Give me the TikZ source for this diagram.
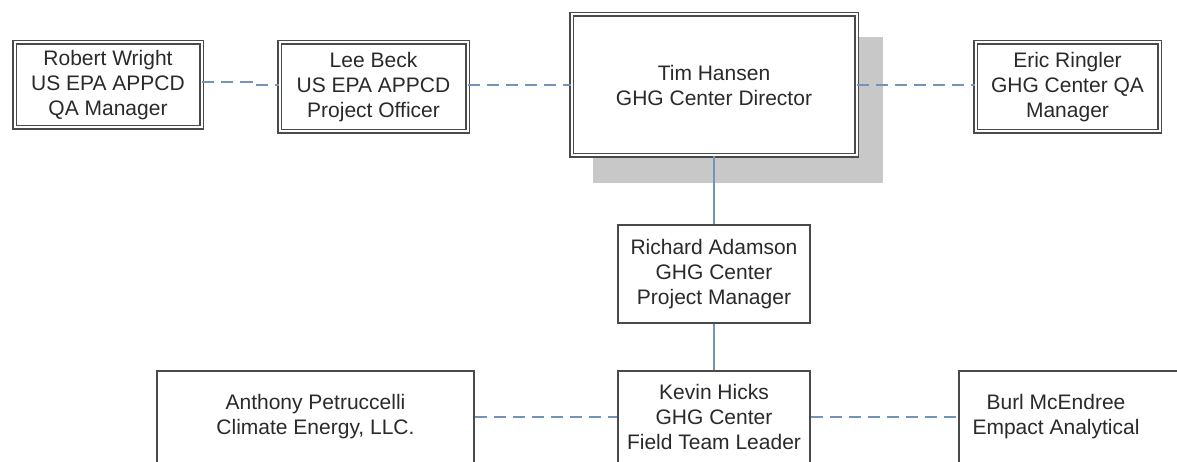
\documentclass[tikz,border=0pt]{standalone}
\usepackage{fontspec}
\setmainfont{Liberation Sans}
\definecolor{conncol}{HTML}{7393B8}
\definecolor{shadowcol}{HTML}{C8C8C8}
\definecolor{boxline}{HTML}{4A4A4A}
\definecolor{txt}{HTML}{2A2A2A}
\begin{document}
\begin{tikzpicture}[x=1pt,y=-1pt,
  every node/.style={font=\fontsize{21}{25}\selectfont, align=center, inner sep=0pt, text=txt},
  dbox/.style={rectangle, draw=boxline, line width=1.1pt, double=white, double distance=2pt, fill=white},
  sbox/.style={rectangle, draw=boxline, line width=1.2pt, fill=white},
  solidconn/.style={draw=conncol, line width=1.4pt},
  dashconn/.style={draw=conncol, line width=1.6pt, dash pattern=on 12pt off 7pt}
]
\useasboundingbox (0,0) rectangle (1177,462);
\fill[white] (0,0) rectangle (1177,462);
% shadow
\fill[shadowcol] (593,37) rectangle (883,183);
% top row
\node[dbox, minimum width=187pt, minimum height=85pt] (robert) at (108,85) {Robert Wright\\US EPA APPCD\\QA Manager};
\node[dbox, minimum width=188pt, minimum height=89pt] (lee) at (373.5,87) {Lee Beck\\US EPA APPCD\\Project Officer};
\node[dbox, minimum width=285pt, minimum height=141pt] (tim) at (714,85) {Tim Hansen\\GHG Center Director};
\node[dbox, minimum width=184pt, minimum height=89pt] (eric) at (1067.5,87) {Eric Ringler\\GHG Center QA\\Manager};
% middle
\node[sbox, minimum width=192pt, minimum height=98pt] (richard) at (714,274) {Richard Adamson\\GHG Center\\Project Manager};
% bottom row
\node[sbox, minimum width=192pt, minimum height=92pt] (kevin) at (714,417) {Kevin Hicks\\GHG Center\\Field Team Leader};
\node[sbox, minimum width=317pt, minimum height=92pt] (anthony) at (315.5,417) {Anthony Petruccelli\\Climate Energy, LLC.};
\node[sbox, minimum width=241pt, minimum height=92pt] (burl) at (1079.5,417) {};
\node (burltext) at (1056,417) {Burl McEndree\\Empact Analytical};
% connectors
\draw[dashconn] ([yshift=3pt]robert.east) -| ([xshift=-27pt,yshift=2pt]lee.west) -- ([yshift=2pt]lee.west);
\draw[dashconn] (lee.east |- tim.west) -- (tim.west);
\draw[dashconn] (tim.east) -- (eric.west |- tim.east);
\draw[solidconn] (tim.south) -- (richard.north);
\draw[solidconn] (richard.south) -- (kevin.north);
\draw[dashconn] (anthony.east) -- (kevin.west |- anthony.east);
\draw[dashconn] (kevin.east |- anthony.east) -- (burl.west |- anthony.east);
\end{tikzpicture}
\end{document}
